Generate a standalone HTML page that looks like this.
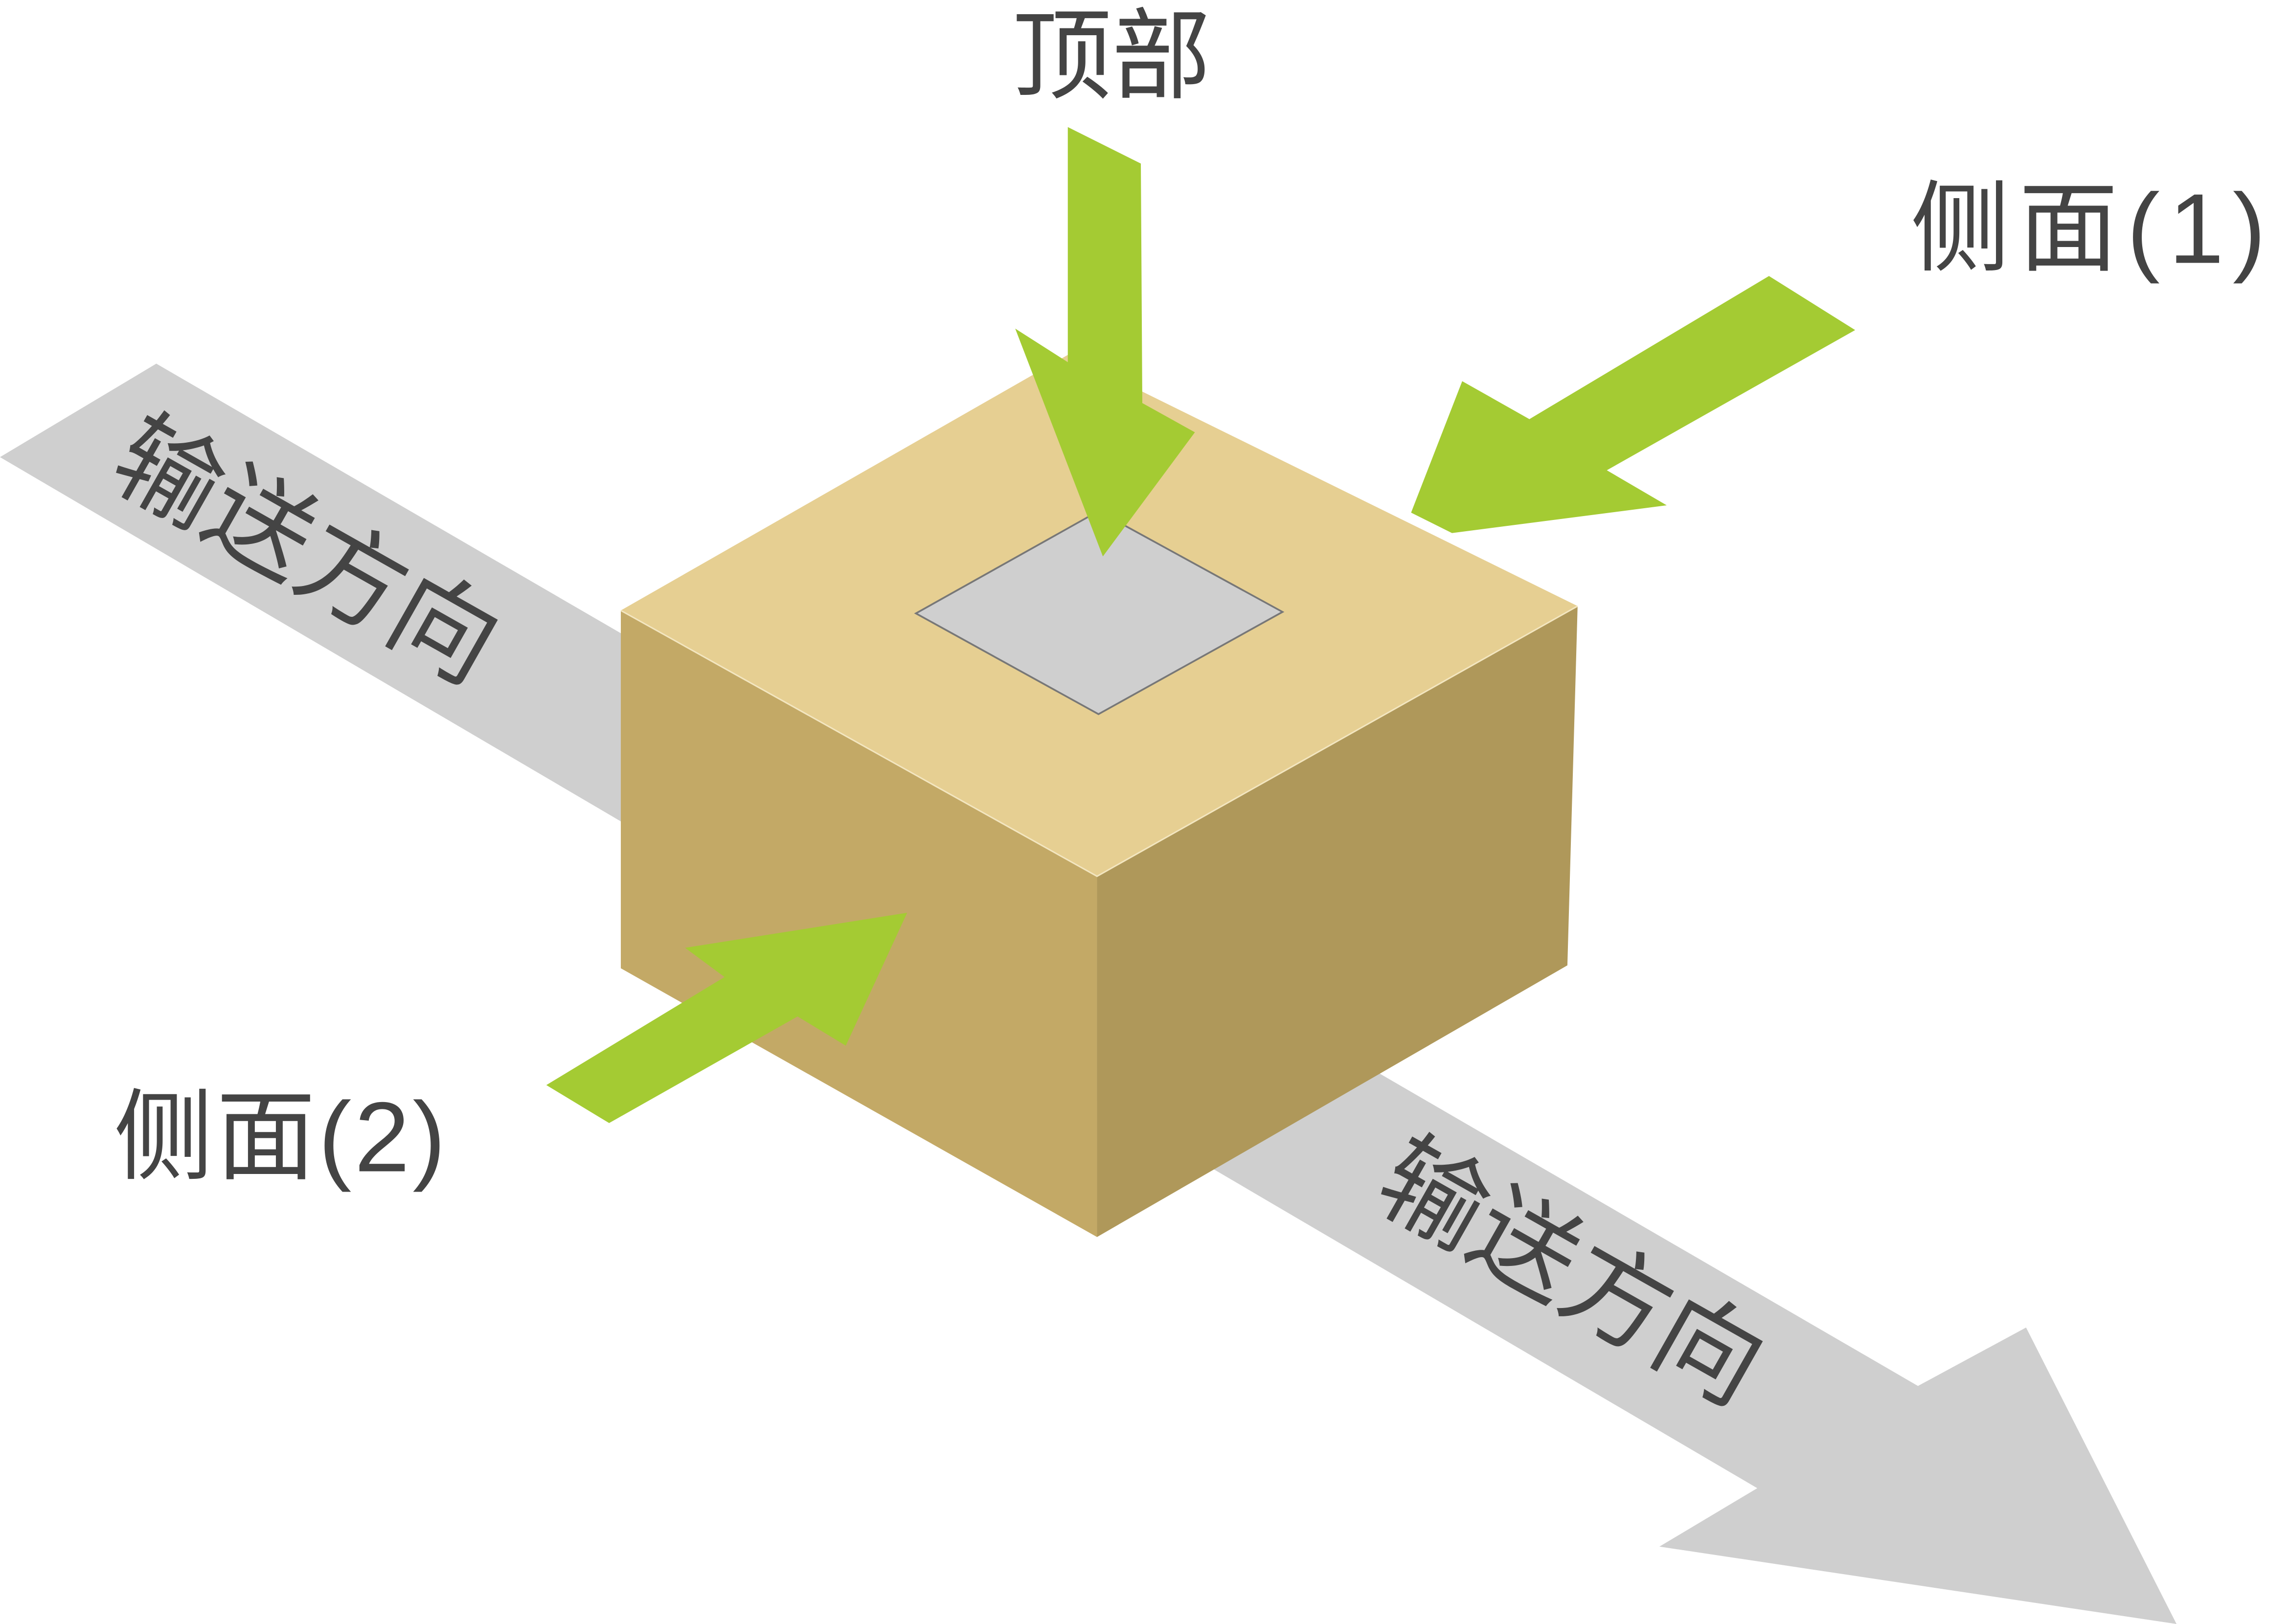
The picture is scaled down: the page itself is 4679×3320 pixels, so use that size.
<!DOCTYPE html>
<html><head><meta charset="utf-8"><style>
html,body{margin:0;padding:0;background:#fff;}
svg{display:block;}
text{font-family:"Liberation Sans","Noto Sans CJK SC",sans-serif;fill:#444;}
</style></head><body>
<svg width="4679" height="3320" viewBox="0 0 1567 1112" preserveAspectRatio="none" xmlns="http://www.w3.org/2000/svg">
<rect width="1567" height="1112" fill="#fff"/>
<polygon points="0,313 107,249 1313,949 1387,909 1490,1112 1136,1059 1203,1019" fill="#cfcfcf"/>
<polygon points="425,418 731,243 1080,415 751,600" fill="#e6cf92"/>
<polygon points="425,418 751,600 751,847 425,663" fill="#c3a966"/>
<polygon points="751,600 1080,415 1073,661 751,847" fill="#af985a"/>
<polyline points="425,418 751,600 1080,415" fill="none" stroke="#f3e6c0" stroke-width="1"/>
<polygon points="627,420 752,350 878,419 752,489" fill="#cfcfcf" stroke="#777" stroke-width="1.2"/>
<polygon points="731,87 781,112 782,276 818,296 755,381 695,225 731,248" fill="#a4cb33"/>
<polygon points="1211,189 1270,226 1100,322 1141,346 994,365 966,351 1001,261 1047,287" fill="#a4cb33"/>
<polygon points="374,743 496,669 469,649 621,625 579,716 546,696 417,769" fill="#a4cb33"/>
<text x="761" y="62" font-size="68" text-anchor="middle">顶部</text>
<text x="1308" y="180" font-size="68" letter-spacing="6">侧面(1)</text>
<text x="78" y="802" font-size="68" letter-spacing="2">侧面(2)</text>
<text transform="translate(207,382) rotate(29.5)" font-size="72" text-anchor="middle" dominant-baseline="middle">输送方向</text>
<text transform="translate(1073,876) rotate(29.5)" font-size="72" text-anchor="middle" dominant-baseline="middle">输送方向</text>
</svg>
</body></html>
